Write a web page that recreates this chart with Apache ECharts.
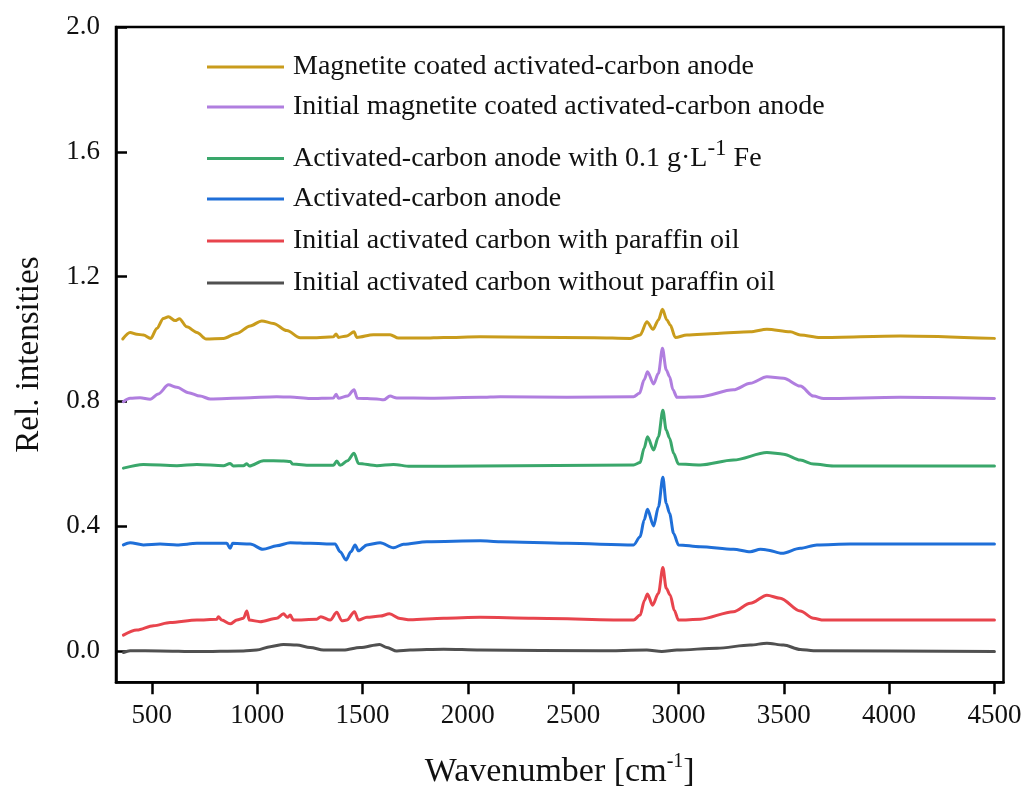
<!DOCTYPE html>
<html>
<head>
<meta charset="utf-8">
<script src="https://cdn.jsdelivr.net/npm/echarts@6/dist/echarts.min.js"></script>
<style>
  html, body { margin: 0; padding: 0; background: #fff; }
  #chart { width: 1028px; height: 791px; }
</style>
</head>
<body>
<div id="chart"></div>
<script>
// FTIR spectra, [wavenumber cm^-1, relative intensity]
const magnetiteAnode = [[362,1.000],[397,1.021],[429,1.015],[460,1.013],[495,1.002],[524,1.034],[555,1.066],[579,1.071],[611,1.059],[631,1.065],[666,1.039],[714,1.021],[758,1.000],[840,1.002],[904,1.018],[967,1.042],[1022,1.058],[1077,1.050],[1141,1.027],[1204,1.004],[1283,1.004],[1362,1.007],[1375,1.016],[1386,1.005],[1426,1.010],[1460,1.023],[1473,1.005],[1552,1.014],[1631,1.014],[1671,1.003],[1790,1.003],[1885,1.005],[2059,1.007],[2300,1.006],[2600,1.004],[2771,1.002],[2818,1.013],[2850,1.055],[2879,1.031],[2905,1.061],[2924,1.095],[2945,1.061],[2961,1.045],[2985,1.005],[3040,1.013],[3183,1.018],[3341,1.023],[3420,1.031],[3531,1.023],[3578,1.013],[3673,1.005],[4053,1.010],[4500,1.002]];
const initialMagnetiteAnode = [[365,0.799],[397,0.810],[444,0.812],[492,0.807],[531,0.824],[579,0.853],[619,0.845],[674,0.828],[729,0.817],[777,0.808],[935,0.811],[1093,0.815],[1157,0.814],[1252,0.809],[1362,0.811],[1375,0.823],[1386,0.810],[1429,0.817],[1460,0.837],[1476,0.810],[1568,0.808],[1600,0.805],[1631,0.817],[1663,0.811],[1821,0.810],[2059,0.813],[2154,0.815],[2470,0.813],[2787,0.815],[2815,0.826],[2837,0.869],[2853,0.895],[2882,0.856],[2905,0.890],[2924,0.970],[2942,0.901],[2958,0.879],[2974,0.837],[2993,0.813],[3103,0.815],[3261,0.837],[3341,0.858],[3420,0.879],[3499,0.874],[3578,0.849],[3641,0.817],[3689,0.809],[4053,0.813],[4500,0.809]];
const ironAnode = [[365,0.586],[460,0.598],[619,0.594],[714,0.598],[840,0.594],[872,0.601],[887,0.593],[935,0.594],[951,0.600],[963,0.593],[1030,0.610],[1125,0.609],[1157,0.607],[1169,0.599],[1252,0.595],[1362,0.595],[1378,0.609],[1394,0.595],[1429,0.610],[1460,0.634],[1481,0.601],[1568,0.594],[1647,0.598],[1726,0.592],[2059,0.593],[2787,0.596],[2818,0.604],[2837,0.650],[2853,0.687],[2882,0.644],[2905,0.687],[2926,0.772],[2942,0.708],[2958,0.682],[2977,0.634],[3000,0.599],[3103,0.596],[3261,0.612],[3420,0.636],[3499,0.631],[3578,0.612],[3641,0.599],[3736,0.593],[4500,0.593]];
const carbonAnode = [[365,0.340],[397,0.347],[460,0.340],[539,0.343],[619,0.340],[714,0.345],[856,0.345],[872,0.329],[884,0.345],[967,0.343],[1027,0.326],[1093,0.337],[1157,0.347],[1252,0.345],[1370,0.343],[1394,0.318],[1422,0.292],[1445,0.318],[1465,0.340],[1481,0.321],[1521,0.340],[1584,0.347],[1647,0.331],[1695,0.342],[1806,0.350],[2059,0.353],[2154,0.350],[2470,0.345],[2787,0.340],[2818,0.366],[2837,0.420],[2853,0.454],[2882,0.401],[2905,0.462],[2926,0.557],[2942,0.473],[2958,0.441],[2977,0.377],[3000,0.340],[3103,0.334],[3261,0.326],[3341,0.318],[3389,0.326],[3420,0.324],[3491,0.313],[3578,0.329],[3657,0.340],[3815,0.343],[4500,0.343]];
const carbonWithOil = [[365,0.051],[429,0.067],[508,0.081],[587,0.091],[714,0.099],[809,0.102],[816,0.110],[832,0.099],[872,0.087],[904,0.099],[935,0.105],[951,0.128],[963,0.099],[1014,0.094],[1093,0.105],[1125,0.119],[1144,0.108],[1157,0.115],[1172,0.099],[1283,0.102],[1302,0.110],[1347,0.099],[1378,0.124],[1402,0.097],[1426,0.099],[1462,0.126],[1481,0.099],[1521,0.108],[1584,0.112],[1628,0.119],[1679,0.104],[1726,0.100],[1885,0.105],[2059,0.108],[2312,0.105],[2787,0.099],[2818,0.115],[2839,0.163],[2853,0.183],[2877,0.147],[2905,0.185],[2926,0.268],[2942,0.201],[2961,0.179],[2980,0.131],[3000,0.099],[3103,0.102],[3261,0.126],[3341,0.153],[3420,0.179],[3483,0.169],[3578,0.128],[3641,0.105],[3689,0.099],[4500,0.099]];
const carbonWithoutOil = [[365,-0.005],[397,0.001],[539,0.000],[714,-0.002],[935,0.000],[998,0.003],[1062,0.014],[1125,0.021],[1188,0.019],[1252,0.011],[1315,0.003],[1410,0.003],[1489,0.011],[1581,0.021],[1616,0.011],[1663,0.000],[1726,0.003],[1885,0.006],[2059,0.003],[2629,0.001],[2850,0.003],[2921,-0.002],[2993,0.003],[3183,0.009],[3341,0.019],[3420,0.025],[3499,0.019],[3578,0.005],[3641,0.001],[4500,-0.002]];

const seriesNames = [
  'Magnetite coated activated-carbon anode',
  'Initial magnetite coated activated-carbon anode',
  'Activated-carbon anode with 0.1 g·L-1 Fe',
  'Activated-carbon anode',
  'Initial activated carbon with paraffin oil',
  'Initial activated carbon without paraffin oil'
];
const seriesData = [magnetiteAnode, initialMagnetiteAnode, ironAnode, carbonAnode, carbonWithOil, carbonWithoutOil];
const seriesColors = ['#C99C1C', '#B07EDF', '#3AA76B', '#1F6FD8', '#E8444D', '#505050'];

const xTicks = [500, 1000, 1500, 2000, 2500, 3000, 3500, 4000, 4500];
const yTicks = [0, 0.4, 0.8, 1.2, 1.6, 2.0];

const FONT = "'Times New Roman', 'Liberation Serif', serif";
const legendRowCenters = [67, 107, 157, 199, 241, 283];

const chart = echarts.init(document.getElementById('chart'), null, { renderer: 'canvas' });

// one legend block per row so each row sits at its own height
const legends = seriesNames.map((name, i) => {
  const rich = i === 2;
  const h = rich ? 40 : 30;
  return {
    data: [name],
    left: 207,
    top: legendRowCenters[i] - h / 2,
    padding: 0,
    icon: 'rect',
    itemWidth: 77,
    itemHeight: 3,
    selectedMode: false,
    formatter: n => rich ? 'Activated-carbon anode with 0.1 g·L{sup|-1} Fe' : n,
    textStyle: {
      fontFamily: FONT, fontSize: 28, color: '#111', lineHeight: 30,
      padding: [0, 0, 0, 4],
      rich: {
        sup: { fontFamily: FONT, fontSize: 23, lineHeight: 20, padding: [0, 0, 20, 0], color: '#111' }
      }
    }
  };
});

const option = {
  animation: false,
  backgroundColor: '#fff',
  grid: {
    left: 116, right: 24.5, top: 27, bottom: 108.8,
    containLabel: false,
    outerBoundsMode: 'none',
    show: true, borderColor: '#000', borderWidth: 2.5, backgroundColor: 'transparent'
  },
  legend: legends,
  xAxis: {
    type: 'value',
    min: 330, max: 4543,
    name: 'Wavenumber [cm{sup|-1}]',
    nameLocation: 'middle',
    nameGap: 70,
    nameTextStyle: {
      fontFamily: FONT, fontSize: 34, color: '#111',
      rich: { sup: { fontFamily: FONT, fontSize: 20, color: '#111', padding: [0, 0, 20, 0] } }
    },
    axisLine: { show: true, onZero: false, lineStyle: { color: '#000', width: 2.5 } },
    axisTick: { show: true, inside: false, length: 12, customValues: xTicks, lineStyle: { color: '#000', width: 2.5 } },
    axisLabel: { customValues: xTicks, margin: 20, fontFamily: FONT, fontSize: 27, color: '#111',
      formatter: v => String(v) },
    splitLine: { show: false }
  },
  yAxis: {
    type: 'value',
    min: -0.1, max: 2.0,
    name: 'Rel. intensities',
    nameLocation: 'middle',
    nameGap: 70,
    nameTextStyle: { fontFamily: FONT, fontSize: 33, color: '#111' },
    axisLine: { show: true, onZero: false, lineStyle: { color: '#000', width: 2.5 } },
    axisTick: { show: true, inside: true, length: 11, customValues: yTicks, lineStyle: { color: '#000', width: 2.5 } },
    axisLabel: { customValues: yTicks, margin: 16, fontFamily: FONT, fontSize: 27, color: '#111',
      formatter: v => v.toFixed(1) },
    splitLine: { show: false }
  },
  series: seriesNames.map((name, i) => ({
    name,
    type: 'line',
    data: seriesData[i],
    showSymbol: false,
    smooth: 0.3,
    smoothMonotone: 'x',
    color: seriesColors[i],
    lineStyle: { color: seriesColors[i], width: 3, cap: 'round', join: 'round' },
    emphasis: { disabled: true }
  }))
};

chart.setOption(option);
</script>
</body>
</html>
